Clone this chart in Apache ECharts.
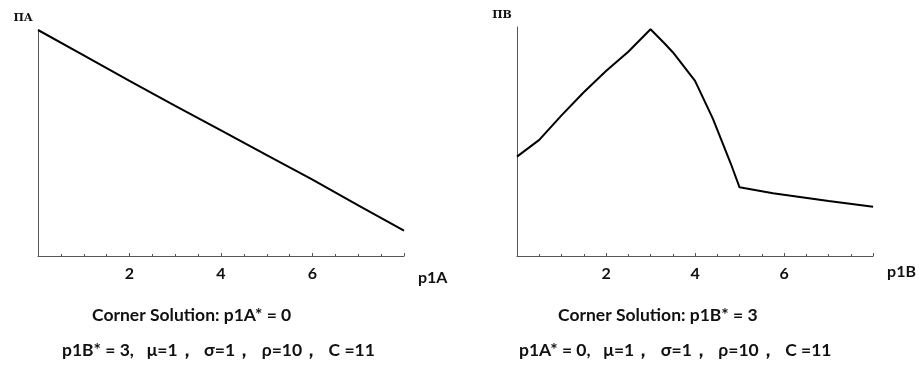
<!DOCTYPE html>
<html>
<head>
<meta charset="utf-8">
<script src="https://cdn.jsdelivr.net/npm/echarts@6/dist/echarts.min.js"></script>
<style>
  html, body { margin: 0; padding: 0; background: #fff; }
  #chart { width: 919px; height: 367px; }
</style>
</head>
<body>
<div id="chart"></div>
<script>
// x ticks shown on both panels
var xTickLabels = ["2", "4", "6"];

// left panel: profit of A against p1A (y in % of axis height)
var p1A = [0, 1, 2, 3, 4, 5, 6, 7, 8];
var profitA = [100, 88.8, 77.5, 66.4, 55.6, 44.6, 33.8, 22.4, 11.2];

// right panel: profit of B against p1B
var p1B = [0, 0.5, 1, 1.5, 2, 2.5, 3, 3.3, 3.5, 4, 4.4, 4.8, 5, 5.75, 7, 8];
var profitB = [43.4, 50.7, 61.4, 71.5, 80.8, 89.2, 99, 93.1, 89, 76.5, 60, 40.5, 30, 27.4, 24, 21.5];

var axisColor = "#555";
var sans = "Lato";

function pairs(xs, ys) {
  return xs.map(function (x, i) { return [x, ys[i]]; });
}

function xAxisFor(idx, name, nameDrop) {
  return {
    type: "value",
    gridIndex: idx,
    min: 0,
    max: 8,
    interval: 2,
    name: name,
    nameLocation: "end",
    nameGap: 14,
    nameTextStyle: {
      color: "#111",
      fontFamily: sans,
      fontWeight: "bold",
      fontSize: 16,
      verticalAlign: "top",
      padding: [nameDrop, 0, 0, 0]
    },
    axisLine: { show: true, onZero: false, lineStyle: { color: axisColor, width: 1 } },
    axisTick: { show: true, inside: true, length: 3, lineStyle: { color: axisColor } },
    minorTick: { show: true, splitNumber: 4, length: 2, lineStyle: { color: axisColor } },
    splitLine: { show: false },
    axisLabel: {
      color: "#111",
      fontFamily: sans,
      fontWeight: "bold",
      fontSize: 16,
      margin: 10,
      formatter: function (v) {
        var s = String(v);
        return xTickLabels.indexOf(s) >= 0 ? s : "";
      }
    }
  };
}

function yAxisFor(idx, name) {
  return {
    type: "value",
    gridIndex: idx,
    min: 0,
    max: 100,
    name: name,
    nameLocation: "end",
    nameGap: 6,
    nameTextStyle: {
      color: "#111",
      fontFamily: "DejaVu Serif",
      fontWeight: "bold",
      fontSize: 11,
      padding: [0, 30, 0, 0]
    },
    axisLine: { show: true, lineStyle: { color: axisColor, width: 1 } },
    axisTick: { show: false },
    axisLabel: { show: false },
    splitLine: { show: false }
  };
}

var textStyle = { color: "#111", fontFamily: sans, fontWeight: "bold", fontSize: 17.5 };

var chart = echarts.init(document.getElementById("chart"));
chart.setOption({
  animation: false,
  backgroundColor: "#fff",
  title: [
    { text: "Corner Solution: p1A* = 0", left: 92, top: 306, padding: 0, textStyle: textStyle },
    { text: "p1B* = 3,   μ=1，  σ=1，  ρ=10，  C =11", left: 62, top: 341, padding: 0, textStyle: textStyle },
    { text: "Corner Solution: p1B* = 3", left: 558, top: 306, padding: 0, textStyle: textStyle },
    { text: "p1A* = 0,   μ=1，  σ=1，  ρ=10，  C =11", left: 519, top: 341, padding: 0, textStyle: textStyle }
  ],
  grid: [
    { left: 38, top: 30, right: 515, bottom: 111 },
    { left: 517, top: 27, right: 36, bottom: 111 }
  ],
  xAxis: [xAxisFor(0, "p1A", 14), xAxisFor(1, "p1B", 8)],
  yAxis: [yAxisFor(0, "ΠA"), yAxisFor(1, "ΠB")],
  series: [
    {
      type: "line",
      xAxisIndex: 0,
      yAxisIndex: 0,
      data: pairs(p1A, profitA),
      showSymbol: false,
      lineStyle: { color: "#000", width: 2 }
    },
    {
      type: "line",
      xAxisIndex: 1,
      yAxisIndex: 1,
      data: pairs(p1B, profitB),
      showSymbol: false,
      lineStyle: { color: "#000", width: 2 }
    }
  ]
});
</script>
</body>
</html>
